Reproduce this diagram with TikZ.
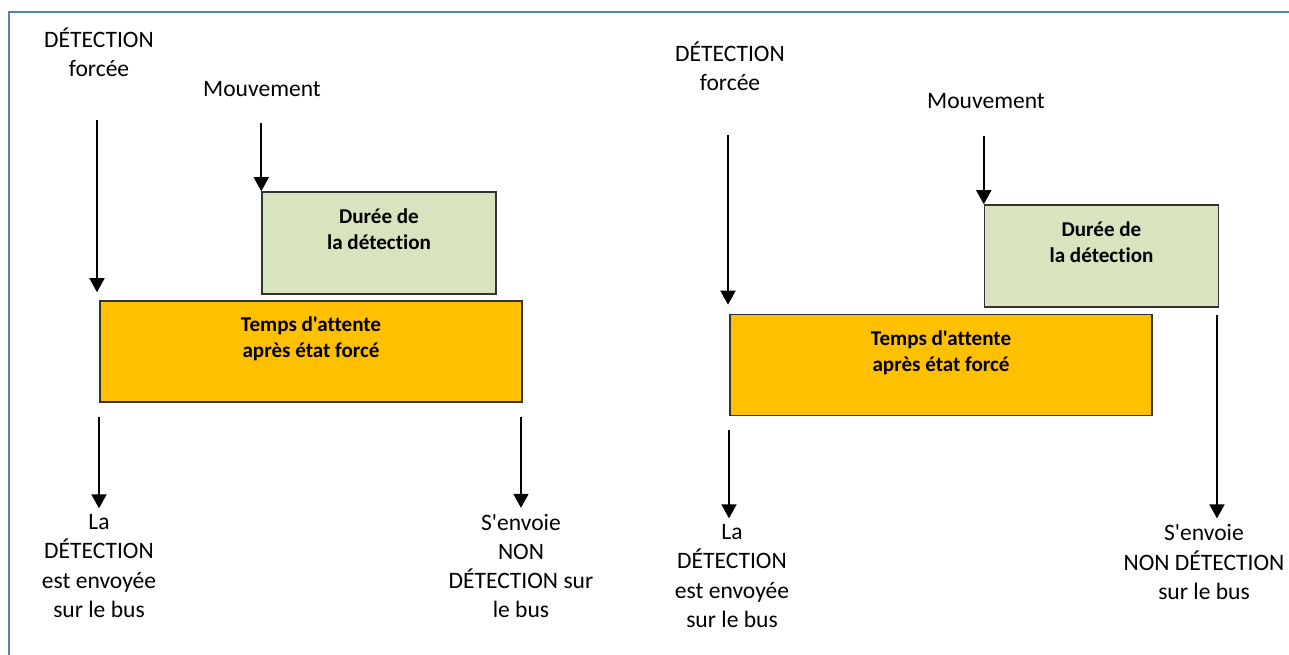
\documentclass[tikz,border=0pt]{standalone}
\usepackage{fontspec}
\setmainfont{Carlito}[Ligatures={TeXOff,CommonOff}]
\usetikzlibrary{arrows.meta,positioning}

\definecolor{detgreen}{HTML}{D7E4BD}
\definecolor{waitorange}{HTML}{FFC000}
\definecolor{frameblue}{HTML}{4F81BD}

\tikzstyle{block} = [rectangle, draw=black!80, line width=0.85pt, inner sep=0pt]
\tikzstyle{detbox} = [block, fill=detgreen, minimum width=4.68cm, minimum height=2.04cm]
\tikzstyle{waitbox} = [block, fill=waitorange, minimum width=8.44cm, minimum height=2.02cm]
\tikzstyle{boxtext} = [align=center, font=\fontsize{12}{15}\selectfont\bfseries]
\tikzstyle{txt} = [align=center, font=\fontsize{13.4}{16.6}\selectfont]
\tikzstyle{arrow} = [draw, line width=1.1pt, -{Triangle[length=8pt,width=8.5pt]}]
\tikzstyle{frame} = [draw=frameblue, line width=1.2pt]

\begin{document}
\begin{tikzpicture}[x=0.02cm, y=-0.02cm]
    \useasboundingbox (0,0) rectangle (1289,655);
    \draw[frame] (9,670) -- (9,12) -- (1300,12);

    % left case
    \node[txt] (forced1) at (99,52) {DÉTECTION\\forcée};
    \node[txt] (move1) at (262,89) {Mouvement};
    \node[detbox] (det1) at (379,243) {};
    \node[boxtext] (det1txt) at ([yshift=0.27cm]det1.center) {Durée de\\la détection};
    \node[waitbox] (wait1) at (311,351.5) {};
    \node[boxtext] (wait1txt) at ([yshift=0.26cm]wait1.center) {Temps d'attente\\après état forcé};
    \node[txt] (sent1) at (99,566) {La\\DÉTECTION\\est envoyée\\sur le bus};
    \node[txt] (nosend1) at (521,566) {S'envoie\\NON\\DÉTECTION sur\\le bus};

    \coordinate (f1) at (97,120);
    \coordinate (m1) at (det1.north west |- 0,123);
    \coordinate (s1) at (99,417);
    \coordinate (n1) at (521,417);

    % lines
    \draw[arrow, shorten >=0.16cm] (f1) -- (f1 |- wait1.north);
    \draw[arrow] (m1) -- (det1.north west);
    \draw[arrow] (s1) -- (sent1.north);
    \draw[arrow] (n1) -- (nosend1.north);

    % right case
    \node[txt] (forced2) at (730,66) {DÉTECTION\\forcée};
    \node[txt] (move2) at (986,101) {Mouvement};
    \node[detbox] (det2) at (1101.5,256) {};
    \node[boxtext] (det2txt) at ([yshift=0.27cm]det2.center) {Durée de\\la détection};
    \node[waitbox] (wait2) at (941,365) {};
    \node[boxtext] (wait2txt) at ([yshift=0.25cm]wait2.center) {Temps d'attente\\après état forcé};
    \node[txt] (sent2) at (732,576) {La\\DÉTECTION\\est envoyée\\sur le bus};
    \node[txt] (nosend2) at (1204,562) {S'envoie\\NON DÉTECTION\\sur le bus};

    \coordinate (f2) at (728,135);
    \coordinate (m2) at (det2.north west |- 0,136);
    \coordinate (s2) at (729,430);
    \coordinate (n2) at (1217,315);

    % lines
    \draw[arrow, shorten >=0.18cm] (f2) -- (f2 |- wait2.north);
    \draw[arrow] (m2) -- (det2.north west);
    \draw[arrow] (s2) -- (s2 |- sent2.north);
    \draw[arrow] (n2) -- (n2 |- nosend2.north);
\end{tikzpicture}
\end{document}
